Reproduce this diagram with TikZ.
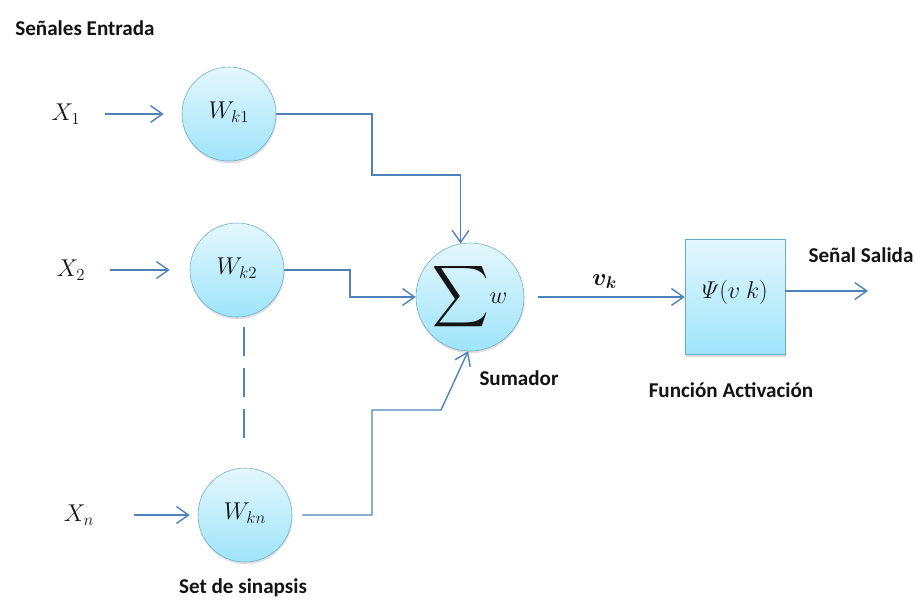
\documentclass[tikz,border=0pt]{standalone}
\usepackage{fontspec}
\setmainfont{Carlito}
\usepackage{amsmath,amssymb}
\usetikzlibrary{arrows.meta,shadows}
\definecolor{linea}{RGB}{79,129,189}
\definecolor{borde}{RGB}{105,172,196}
\definecolor{cielo}{RGB}{228,247,253}
\definecolor{celeste}{RGB}{158,228,250}
\definecolor{texto}{RGB}{20,20,20}
\tikzset{
  peso/.style={circle, draw=borde, thin, top color=cielo, bottom color=celeste,
              minimum size=2.35cm, inner sep=0pt, font=\fontsize{18}{20}\selectfont, text=texto,
              drop shadow={opacity=0.25, shadow xshift=0.4pt, shadow yshift=-1.6pt}},
  sumador/.style={peso, minimum size=2.7cm},
  bloque/.style={rectangle, draw=borde, thin, top color=cielo, bottom color=celeste,
              minimum width=2.5cm, minimum height=2.875cm, inner sep=0pt,
              font=\fontsize{18}{20}\selectfont, text=texto,
              drop shadow={opacity=0.3, shadow xshift=0.6pt, shadow yshift=-1.8pt}},
  rotulo/.style={font=\fontsize{15}{18}\selectfont\bfseries, text=texto, inner sep=0pt},
  entrada/.style={font=\fontsize{18}{20}\selectfont, text=texto, inner sep=0pt},
  flecha/.style={-{Straight Barb[length=3mm, width=4.2mm]}, linea, line width=1pt},
  guion/.style={linea, line width=1pt, dash pattern=on 0.72cm off 0.3cm},
}

\begin{document}
\begin{tikzpicture}[x=0.025cm, y=-0.025cm]
  \useasboundingbox (0,0) rectangle (918,601);

  \node[rotulo] (titulo) at (85,28) {Señales Entrada};

  \node[entrada] (x1) at (66,114) {$X_1$};
  \node[entrada] (x2) at (71,270) {$X_2$};
  \node[entrada] (xn) at (79,515) {$X_n$};

  \node[peso] (w1) at (229,114) {\raisebox{0.6ex}{$W_{k1}$}};
  \node[peso] (w2) at (237,270) {\raisebox{0.6ex}{$W_{k2}$}};
  \node[peso] (wn) at (245,515) {\raisebox{0.6ex}{$W_{kn}$}};
  \node[rotulo] (sinapsis) at (243,588) {Set de sinapsis};

  \node[sumador] (suma) at (470,297) {$\vcenter{\hbox{\scalebox{1.55}[1.7]{$\displaystyle\sum$}}}w$};
  \node[rotulo] (nomsuma) at (519,378) {Sumador};

  \node[bloque] (caja) at (735,297) {\raisebox{1.2ex}{$\varPsi(v\ k)$}};
  \node[rotulo] (nomcaja) at (731,390) {Función Activación};
  \node[rotulo] (nomsalida) at (861,255) {Señal Salida};

  \coordinate (codo1) at (372,175);
  \coordinate (codo2) at (350,297);
  \coordinate (codo3) at (372,410);
  \coordinate (codo4) at (441,410);
  \coordinate (salida) at (868,291);

  \draw[flecha, shorten <=0.6cm, shorten >=0.45cm] (x1.east) -- (w1.west);
  \draw[flecha, shorten <=0.6cm, shorten >=0.5cm] (x2.east) -- (w2.west);
  \draw[flecha, shorten <=1.0cm, shorten >=0.2cm] (xn.east) -- (wn.west);

  \draw[flecha] (w1.east) -| (codo1) -| (suma.100);
  \draw[flecha] (w2.east) -| (codo2) -- (suma.west);
  \draw[flecha] ([xshift=0.25cm]wn.east) -| (codo3) -- (codo4) -- (suma.268);
  \draw[guion, shorten <=0.25cm, shorten >=0.75cm] ([xshift=5]w2.south) -- ([xshift=5]w2.south |- wn.north);

  \draw[flecha, shorten <=0.35cm] (suma.east) -- node[above=2pt, font=\fontsize{18}{20}\selectfont, text=texto] (vk) {$\boldsymbol{v_k}$} (caja.west);
  \draw[flecha] (caja.east |- salida) -- (salida);
\end{tikzpicture}
\end{document}
